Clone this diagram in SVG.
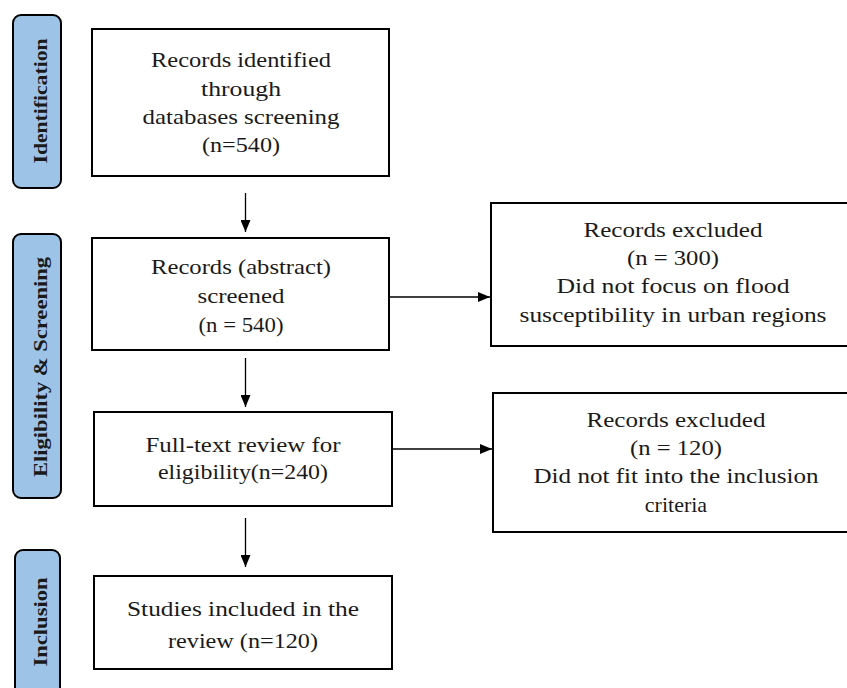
<svg xmlns="http://www.w3.org/2000/svg" width="847" height="688" viewBox="0 0 847 688">
<defs>
<marker id="ah" markerWidth="12" markerHeight="10" refX="12" refY="5" orient="auto" markerUnits="userSpaceOnUse">
<path d="M0,0 L12,5 L0,10 Z" fill="#000"/>
</marker>
</defs>
<style>
.box{fill:#fff;stroke:#000;stroke-width:2}
.side{fill:#9dc3e6;stroke:#000;stroke-width:2}
.t{font-family:"Liberation Serif","DejaVu Serif",serif;font-size:22px;fill:#1a1a1a;text-anchor:middle}
.s{font-family:"Liberation Serif","DejaVu Serif",serif;font-size:18px;font-weight:bold;fill:#1a1a1a;text-anchor:middle}
.c{stroke:#000;stroke-width:1.3;fill:none;marker-end:url(#ah)}
</style>
<rect width="847" height="688" fill="#fff"/>
<g id="side-identification">
<rect class="side" x="13" y="15" width="48" height="173" rx="8"/>
<text class="s" transform="translate(47,101) rotate(-90)" textLength="125" lengthAdjust="spacingAndGlyphs">Identification</text>
</g>
<g id="side-eligibility">
<rect class="side" x="13" y="234" width="48" height="264" rx="8"/>
<text class="s" transform="translate(47,367) rotate(-90)" textLength="220" lengthAdjust="spacingAndGlyphs">Eligibility &amp; Screening</text>
</g>
<g id="side-inclusion">
<rect class="side" x="15" y="550" width="45" height="150" rx="8"/>
<text class="s" transform="translate(47,622) rotate(-90)" textLength="89" lengthAdjust="spacingAndGlyphs">Inclusion</text>
</g>
<g id="n1">
<rect class="box" x="92" y="29" width="297" height="147"/>
<text class="t" x="241" y="67" textLength="180" lengthAdjust="spacingAndGlyphs">Records identified</text>
<text class="t" x="241" y="96" textLength="80" lengthAdjust="spacingAndGlyphs">through</text>
<text class="t" x="241" y="124" textLength="197" lengthAdjust="spacingAndGlyphs">databases screening</text>
<text class="t" x="241" y="152" textLength="78" lengthAdjust="spacingAndGlyphs">(n=540)</text>
</g>
<g id="n2">
<rect class="box" x="92" y="238" width="297" height="112"/>
<text class="t" x="241" y="274" textLength="180" lengthAdjust="spacingAndGlyphs">Records (abstract)</text>
<text class="t" x="241" y="303" textLength="87" lengthAdjust="spacingAndGlyphs">screened</text>
<text class="t" x="241" y="332" textLength="85" lengthAdjust="spacingAndGlyphs">(n = 540)</text>
</g>
<g id="n3">
<rect class="box" x="491" y="203" width="360" height="143"/>
<text class="t" x="673" y="237" textLength="179" lengthAdjust="spacingAndGlyphs">Records excluded</text>
<text class="t" x="673" y="265" textLength="92" lengthAdjust="spacingAndGlyphs">(n = 300)</text>
<text class="t" x="673" y="293" textLength="233" lengthAdjust="spacingAndGlyphs">Did not focus on flood</text>
<text class="t" x="673" y="322" textLength="307" lengthAdjust="spacingAndGlyphs">susceptibility in urban regions</text>
</g>
<g id="n4">
<rect class="box" x="94" y="412" width="298" height="94"/>
<text class="t" x="243" y="452" textLength="195" lengthAdjust="spacingAndGlyphs">Full-text review for</text>
<text class="t" x="243" y="479" textLength="170" lengthAdjust="spacingAndGlyphs">eligibility(n=240)</text>
</g>
<g id="n5">
<rect class="box" x="493" y="393" width="360" height="139"/>
<text class="t" x="676" y="427" textLength="179" lengthAdjust="spacingAndGlyphs">Records excluded</text>
<text class="t" x="676" y="455" textLength="92" lengthAdjust="spacingAndGlyphs">(n = 120)</text>
<text class="t" x="676" y="483" textLength="285" lengthAdjust="spacingAndGlyphs">Did not fit into the inclusion</text>
<text class="t" x="676" y="512">criteria</text>
</g>
<g id="n6">
<rect class="box" x="94" y="576" width="298" height="93"/>
<text class="t" x="243" y="616" textLength="232" lengthAdjust="spacingAndGlyphs">Studies included in the</text>
<text class="t" x="243" y="648" textLength="150" lengthAdjust="spacingAndGlyphs">review (n=120)</text>
</g>
<g id="connectors">
<line class="c" x1="245.5" y1="193" x2="245.5" y2="232"/>
<line class="c" x1="389" y1="297" x2="490" y2="297"/>
<line class="c" x1="245.5" y1="358" x2="245.5" y2="407"/>
<line class="c" x1="392" y1="449" x2="492" y2="449"/>
<line class="c" x1="245.5" y1="518" x2="245.5" y2="567"/>
</g>
</svg>
